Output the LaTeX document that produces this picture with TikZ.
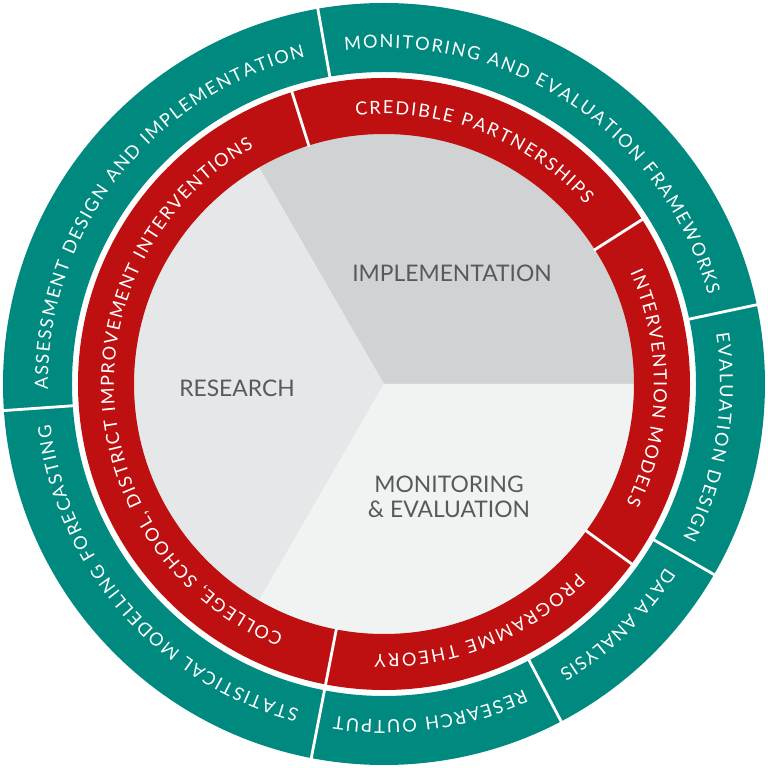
\documentclass[tikz,border=0pt]{standalone}
\usepackage{fontspec}
\setmainfont{Lato}
\usetikzlibrary{decorations.text}

\definecolor{ringteal}{HTML}{00897F}
\definecolor{ringred}{HTML}{BE1010}
\definecolor{implgray}{HTML}{D1D2D4}
\definecolor{resgray}{HTML}{E6E7E8}
\definecolor{megray}{HTML}{F1F2F2}
\definecolor{labelgray}{HTML}{58595B}

\newcommand\ringfont{\fontsize{10.3}{12}\selectfont}

\begin{document}
\begin{tikzpicture}[
        outerring/.style={fill=ringteal, even odd rule},
        innerring/.style={fill=ringred, even odd rule},
        divider/.style={draw=white, line width=1.6pt},
        ringlabel/.style={
            decorate, decoration={text along path, text={|\ringfont|#1},
            text color=white, text align={fit to path}}
        },
        sectorlabel/.style={text=labelgray, align=center, font=\fontsize{13}{14.2}\selectfont}
    ]
        \useasboundingbox (-7.68,-7.68) rectangle (7.68,7.68);

        % Centre sectors
        \fill[implgray] (0,0) -- (0:5.03) arc[start angle=0, end angle=120, radius=5.03] -- cycle;
        \fill[resgray] (0,0) -- (120:5.03) arc[start angle=120, end angle=240, radius=5.03] -- cycle;
        \fill[megray] (0,0) -- (240:5.03) arc[start angle=240, end angle=360, radius=5.03] -- cycle;

        \node[sectorlabel] (impl) at (1.36,2.22) {IMPLEMENTATION};
        \node[sectorlabel] (research) at (-2.94,-0.08) {RESEARCH};
        \node[sectorlabel] (monev) at (1.30,-2.25) {MONITORING\\\& EVALUATION};

        % Rings
        \fill[outerring] (0,0) circle (7.62) (0,0) circle (6.24);
        \fill[innerring] (0,0) circle (6.12) (0,0) circle (5.0);

        % Dividers
        \foreach \a in {100, 184, 259, 297.7, 330, 12}
            \draw[divider] (\a:6.20) -- (\a:7.68);
        \foreach \a in {107.5, 259, 324, 32.5}
            \draw[divider] (\a:4.98) -- (\a:6.14);

        % Outer ring labels
        \path[ringlabel={MONITORING AND EVALUATION FRAMEWORKS}]
            (96.7:6.72) arc[start angle=96.7, end angle=15.4, radius=6.72];
        \path[ringlabel={ASSESSMENT DESIGN AND IMPLEMENTATION}]
            (181:6.72) arc[start angle=181, end angle=103.6, radius=6.72];
        \path[ringlabel={STATISTICAL MODELLING FORECASTING}]
            (255.4:6.72) arc[start angle=255.4, end angle=187, radius=6.72];
        \path[ringlabel={RESEARCH OUTPUT}]
            (294.6:6.72) arc[start angle=294.6, end angle=261.5, radius=6.72];
        \path[ringlabel={DATA ANALYSIS}]
            (326.9:6.72) arc[start angle=326.9, end angle=301.4, radius=6.72];
        \path[ringlabel={EVALUATION DESIGN}]
            (8.6:6.72) arc[start angle=8.6, end angle=-27.2, radius=6.72];

        % Inner ring labels
        \path[ringlabel={CREDIBLE PARTNERSHIPS}]
            (96:5.40) arc[start angle=96, end angle=41.7, radius=5.40];
        \path[ringlabel={INTERVENTION MODELS}]
            (24.3:5.40) arc[start angle=24.3, end angle=-26.2, radius=5.40];
        \path[ringlabel={PROGRAMME THEORY}]
            (-44.3:5.40) arc[start angle=-44.3, end angle=-92, radius=5.40];
        \path[ringlabel={COLLEGE, SCHOOL, DISTRICT IMPROVEMENT INTERVENTIONS}]
            (248.2:5.40) arc[start angle=248.2, end angle=118.8, radius=5.40];

    \end{tikzpicture}
\end{document}
